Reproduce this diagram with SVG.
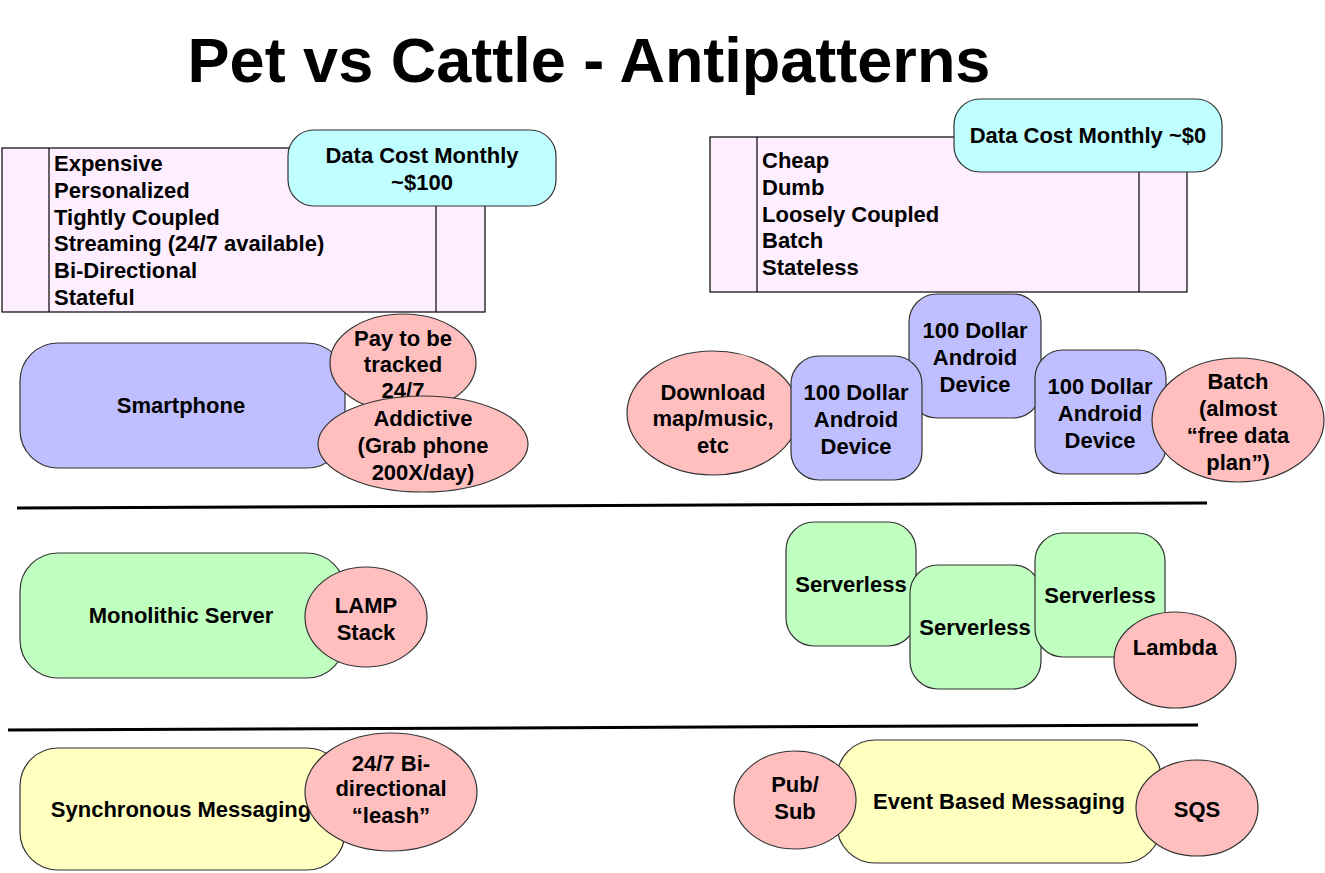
<svg xmlns="http://www.w3.org/2000/svg" width="1325" height="873" viewBox="0 0 1325 873">
<style>
text{font-family:"Liberation Sans",Arial,Helvetica,sans-serif;font-weight:bold;font-size:22px;fill:#000}
.c{text-anchor:middle}
.tbl{fill:#FFEEFF;stroke:#000;stroke-width:1.2}
.ln{stroke:#000;stroke-width:1.2}
.cy{fill:#BFFFFF;stroke:#333;stroke-width:1.2}
.pk{fill:#FFBFBF;stroke:#333;stroke-width:1.2}
.bl{fill:#BFBFFF;stroke:#333;stroke-width:1.2}
.gr{fill:#BFFFBF;stroke:#333;stroke-width:1.2}
.ye{fill:#FFFFBF;stroke:#333;stroke-width:1.2}
.div{stroke:#000;stroke-width:3;fill:none}
</style>
<text id="title" x="589" y="82" class="c" style="font-size:63px">Pet vs Cattle - Antipatterns</text>

<g id="pet-table">
<rect class="tbl" x="2" y="148" width="483" height="164"/>
<line class="ln" x1="49" y1="148" x2="49" y2="312"/>
<line class="ln" x1="436" y1="148" x2="436" y2="312"/>
<text x="54" y="171">Expensive</text>
<text x="54" y="198">Personalized</text>
<text x="54" y="225">Tightly Coupled</text>
<text x="54" y="251">Streaming (24/7 available)</text>
<text x="54" y="278">Bi-Directional</text>
<text x="54" y="305">Stateful</text>
</g>
<g id="pet-cost">
<rect class="cy" x="288" y="130" width="268" height="76" rx="26" ry="26"/>
<text x="422" y="163" class="c">Data Cost Monthly</text>
<text x="422" y="190" class="c">~$100</text>
</g>

<g id="cattle-table">
<rect class="tbl" x="710" y="137" width="477" height="155"/>
<line class="ln" x1="757" y1="137" x2="757" y2="292"/>
<line class="ln" x1="1139" y1="137" x2="1139" y2="292"/>
<text x="762" y="168">Cheap</text>
<text x="762" y="195">Dumb</text>
<text x="762" y="222">Loosely Coupled</text>
<text x="762" y="248">Batch</text>
<text x="762" y="275">Stateless</text>
</g>
<g id="cattle-cost">
<rect class="cy" x="954" y="99" width="268" height="73" rx="26" ry="26"/>
<text x="1088" y="143" class="c">Data Cost Monthly ~$0</text>
</g>

<g id="smartphone">
<rect class="bl" x="20" y="343" width="325" height="125" rx="38" ry="38"/>
<text x="181" y="413" class="c">Smartphone</text>
</g>
<g id="pay-tracked">
<ellipse class="pk" cx="403" cy="363" rx="73" ry="49"/>
<text x="403" y="346" class="c">Pay to be</text>
<text x="403" y="372" class="c">tracked</text>
<text x="403" y="398" class="c">24/7</text>
</g>
<g id="addictive">
<ellipse class="pk" cx="423" cy="444" rx="105" ry="48"/>
<text x="423" y="426" class="c">Addictive</text>
<text x="423" y="453" class="c">(Grab phone</text>
<text x="423" y="480" class="c">200X/day)</text>
</g>

<g id="download">
<ellipse class="pk" cx="713" cy="413" rx="86" ry="62"/>
<text x="713" y="400" class="c">Download</text>
<text x="713" y="426" class="c">map/music,</text>
<text x="713" y="453" class="c">etc</text>
</g>
<g id="android-2">
<rect class="bl" x="909" y="294" width="132" height="124" rx="28" ry="28"/>
<text x="975" y="338" class="c">100 Dollar</text>
<text x="975" y="365" class="c">Android</text>
<text x="975" y="392" class="c">Device</text>
</g>
<g id="android-1">
<rect class="bl" x="791" y="356" width="131" height="124" rx="28" ry="28"/>
<text x="856" y="400" class="c">100 Dollar</text>
<text x="856" y="427" class="c">Android</text>
<text x="856" y="454" class="c">Device</text>
</g>
<g id="android-3">
<rect class="bl" x="1035" y="350" width="131" height="124" rx="28" ry="28"/>
<text x="1100" y="394" class="c">100 Dollar</text>
<text x="1100" y="421" class="c">Android</text>
<text x="1100" y="448" class="c">Device</text>
</g>
<g id="batch">
<ellipse class="pk" cx="1238" cy="420" rx="86" ry="62"/>
<text x="1238" y="389" class="c">Batch</text>
<text x="1238" y="416" class="c">(almost</text>
<text x="1238" y="443" class="c">“free data</text>
<text x="1238" y="470" class="c">plan”)</text>
</g>

<g id="connectors">
<line class="div" x1="17" y1="508" x2="1207" y2="503"/>
<line class="div" x1="8" y1="730" x2="1198" y2="725"/>
</g>

<g id="monolithic">
<rect class="gr" x="20" y="553" width="325" height="125" rx="38" ry="38"/>
<text x="181" y="623" class="c">Monolithic Server</text>
</g>
<g id="lamp">
<ellipse class="pk" cx="366" cy="617" rx="61" ry="50"/>
<text x="366" y="613" class="c">LAMP</text>
<text x="366" y="640" class="c">Stack</text>
</g>

<g id="serverless-1">
<rect class="gr" x="786" y="522" width="130" height="124" rx="28" ry="28"/>
<text x="851" y="592" class="c">Serverless</text>
</g>
<g id="serverless-2">
<rect class="gr" x="910" y="565" width="131" height="124" rx="28" ry="28"/>
<text x="975" y="635" class="c">Serverless</text>
</g>
<g id="serverless-3">
<rect class="gr" x="1035" y="533" width="130" height="124" rx="28" ry="28"/>
<text x="1100" y="603" class="c">Serverless</text>
</g>
<g id="lambda">
<ellipse class="pk" cx="1175" cy="660" rx="61" ry="48"/>
<text x="1175" y="655" class="c">Lambda</text>
</g>

<g id="sync-messaging">
<rect class="ye" x="20" y="748" width="325" height="122" rx="38" ry="38"/>
<text x="181" y="817" class="c">Synchronous Messaging</text>
</g>
<g id="leash">
<ellipse class="pk" cx="391" cy="792" rx="86" ry="59"/>
<text x="391" y="771" class="c">24/7 Bi-</text>
<text x="391" y="796" class="c">directional</text>
<text x="391" y="823" class="c">“leash”</text>
</g>

<g id="event-messaging">
<rect class="ye" x="837" y="740" width="324" height="123" rx="38" ry="38"/>
<text x="999" y="809" class="c">Event Based Messaging</text>
</g>
<g id="pubsub">
<ellipse class="pk" cx="795" cy="800" rx="61" ry="49"/>
<text x="795" y="792" class="c">Pub/</text>
<text x="795" y="819" class="c">Sub</text>
</g>
<g id="sqs">
<ellipse class="pk" cx="1197" cy="808" rx="61" ry="48"/>
<text x="1197" y="817" class="c">SQS</text>
</g>
</svg>
